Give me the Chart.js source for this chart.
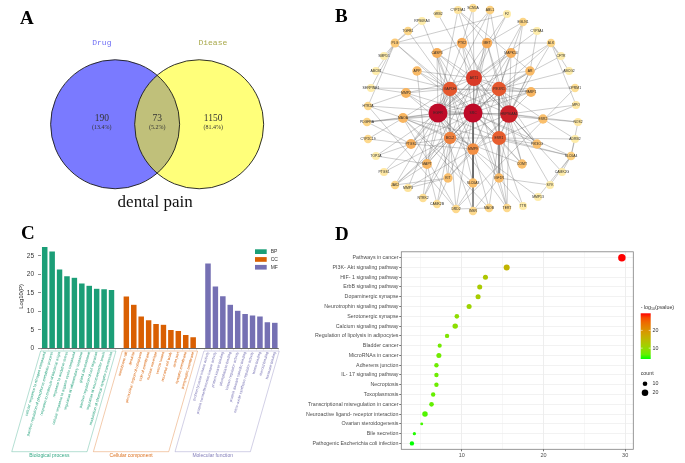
<!DOCTYPE html>
<html>
<head>
<meta charset="utf-8">
<script src="https://cdn.jsdelivr.net/npm/chart.js"></script>
<style>
  html, body { margin: 0; padding: 0; background: #fff; }
  #page { position: relative; width: 685px; height: 463px; overflow: hidden; background: #fff; }
  canvas { position: absolute; }
  .tag { position: absolute; font: bold 19px "Liberation Serif", "Times New Roman", serif; line-height: 19px; color: #000; }
</style>
</head>
<body>
<div id="page">
  <canvas id="venn" width="300" height="225" style="left:0;top:0;width:300px;height:225px"></canvas>
  <canvas id="net" width="385" height="225" style="left:300px;top:0;width:385px;height:225px"></canvas>
  <canvas id="go" width="300" height="238" style="left:0;top:225px;width:300px;height:238px"></canvas>
  <canvas id="kegg" width="385" height="238" style="left:300px;top:225px;width:385px;height:238px"></canvas>
  <div class="tag" style="left:20px;top:8px">A</div>
  <div class="tag" style="left:335px;top:6px">B</div>
  <div class="tag" style="left:21px;top:223px">C</div>
  <div class="tag" style="left:335px;top:224px">D</div>
</div>
<script>
// ---- A: Venn ----
const vennSets = ['Drug', 'Diease'];
const vennCounts = [190, 73, 1150];
const vennShares = ['(13.4%)', '(5.2%)', '(81.4%)'];
const vennTitle = 'dental pain';

// ---- B: PPI network ----
const geneNames = ['SRC', 'EGFR', 'HSP90AA1', 'AKT1', 'GAPDH', 'PIK3R1', 'ESR1', 'BCL2', 'MMP9',
  'PTK2', 'MET', 'CASP3', 'MAPK14', 'APP', 'AR', 'MMP2', 'PARP1', 'MAOA', 'ESR2', 'PTGS2', 'PIK3CG',
  'MAPT', 'COMT', 'KIT', 'SLC6A3', 'IGF1R',
  'PLG', 'TGFB1', 'ABL1', 'EGLN1', 'ALK', 'OPRM1', 'HTR2A', 'PDGFRA', 'CYP2C19', 'JAK2', 'SLC6A4',
  'CYP19A1', 'SCN5A', 'MAOB', 'TERT', 'DRD2', 'INSR', 'CAMK2B', 'NTRK2', 'MMP3',
  'RPS6KA3', 'GRB2', 'F2', 'CYP3A4', 'CFTR', 'ABCG2', 'MPO', 'NOS2', 'ADRB2', 'CAMK2G', 'SYK',
  'MMP13', 'TTR', 'PTGS1', 'TOP2A', 'SMPD1', 'ABCB1', 'SERPINE1'];
const geneX = [0, -35, 36, 1, -23, 26, 26, -23, 0,
  -11, 14, -36, 38, -56, 57, -67, 58, -70, 70, -62, 64,
  -46, 49, -25, 0, 26,
  -78, -65, 17, 50, 78, 102, -105, -106, -105, -78, 98,
  -15, 0, 16, 34, -17, 0, -36, -50, -65,
  -51, -35, 34, 64, 88, 96, 103, 105, 102, 89, 77,
  65, 50, -89, -97, -89, -97, -102];
const geneY = [0, 0, -1, 35, 24, 24, -25, -25, -36,
  70, 70, 60, 60, 42, 42, 20, 21, -5, -6, -31, -31,
  -51, -51, -65, -70, -65,
  70, 82, 103, 91, 70, 25, 7, -9, -26, -72, -43,
  103, 105, -95, -95, -96, -98, -91, -85, -75,
  92, 99, 99, 82, 57, 42, 8, -9, -26, -59, -72,
  -84, -93, -59, -43, 57, 42, 25];
const geneDegree = [40, 40, 37, 33, 29, 29, 28, 23, 21,
  16, 16, 15, 15, 13, 13, 14, 14, 14, 12, 15, 12,
  14, 12, 12, 12, 13,
  10, 8, 9, 8, 8, 6, 7, 8, 7, 8, 9,
  5, 6, 8, 7, 7, 7, 6, 6, 5,
  3, 4, 3, 3, 3, 3, 4, 4, 3, 3, 3,
  3, 3, 4, 3, 3, 3, 3];
const geneLinks = [
  'SRC EGFR HSP90AA1 AKT1 GAPDH PIK3R1 ESR1 BCL2 MMP9 PTK2 MET CASP3 MAPK14 APP AR MMP2 PARP1 MAOA ESR2 PTGS2 PIK3CG MAPT COMT KIT SLC6A3 IGF1R PLG ABL1 EGLN1 ALK JAK2 INSR DRD2 TERT NTRK2 SLC6A4 HTR2A PDGFRA',
  'EGFR HSP90AA1 AKT1 GAPDH PIK3R1 ESR1 BCL2 MMP9 PTK2 MET CASP3 MAPK14 MMP2 PARP1 MAOA PTGS2 MAPT KIT IGF1R ABL1 ALK INSR TERT CYP19A1 PDGFRA JAK2 MMP3 TOP2A',
  'HSP90AA1 AKT1 GAPDH PIK3R1 ESR1 BCL2 MMP9 PTK2 MET CASP3 MAPK14 AR PARP1 ESR2 PIK3CG COMT KIT IGF1R ALK EGLN1 NOS2 MPO SYK CAMK2G ABL1 TERT',
  'AKT1 GAPDH PIK3R1 ESR1 BCL2 MMP9 PTK2 MET CASP3 MAPK14 APP AR MMP2 PARP1 PTGS2 PIK3CG MAPT IGF1R INSR SCN5A F2 CYP3A4 GRB2',
  'GAPDH PIK3R1 ESR1 BCL2 MMP9 CASP3 APP MMP2 PARP1 MAOA PTGS2 MAPT SLC6A3 TGFB1 PLG RPS6KA3 ABCB1 SERPINE1',
  'PIK3R1 ESR1 BCL2 MMP9 MET MAPK14 AR PARP1 ESR2 PIK3CG COMT IGF1R OPRM1 CFTR ABCG2 EGLN1',
  'ESR1 BCL2 MMP9 AR ESR2 COMT CYP19A1 IGF1R PIK3CG TERT MAOB SLC6A4 ADRB2 TTR',
  'BCL2 MMP9 CASP3 PTGS2 MAPT KIT MAOA DRD2 NTRK2 CAMK2B JAK2 PTGS1',
  'MMP9 MMP2 MMP3 MMP13 KIT PTGS2 SLC6A3 INSR MAOB',
  'PTK2 MET CASP3 PLG ABL1 SCN5A',
  'MET ALK EGLN1 F2 CYP19A1',
  'MAOA MAOB COMT DRD2 HTR2A SLC6A4 SLC6A3 CYP2C19 PDGFRA',
  'MAPT APP NTRK2 CAMK2B JAK2 TOP2A',
  'PLG TGFB1 SMPD1 ABCB1 SERPINE1 HTR2A RPS6KA3 F2',
  'DRD2 SLC6A3 HTR2A OPRM1 MAOB',
  'ALK CFTR ABCG2 MPO',
  'SLC6A4 NOS2 ADRB2 SYK CAMK2G MMP13',
  'PTGS2 PTGS1 CYP2C19 TOP2A PDGFRA',
  'IGF1R INSR TERT TTR SYK',
  'ESR2 MPO NOS2 ADRB2',
  'KIT MMP3 JAK2 CAMK2B',
  'AR CYP3A4 CYP19A1',
  'MMP2 SERPINE1 HTR2A'
];

// ---- C: GO enrichment ----
const bpTerms = ['cellular response to nitrogen compound', 'positive regulation of phosphorus metabolic process',
  'response to molecule of bacterial origin', 'response to oxidative stress',
  'cellular response to organic cyclic compound', 'regulation of inflammatory response',
  'gland development', 'positive regulation of cell migration',
  'regulation of neurotransmitter levels', 'modulation of chemical synaptic transmission'];
const bpValues = [27.5, 26.3, 21.4, 19.6, 19.2, 17.6, 17.0, 16.2, 16.1, 15.9];
const ccTerms = ['membrane raft', 'dendrite', 'perinuclear region of cytoplasm', 'side of membrane',
  'nuclear envelope', 'vesicle lumen', 'neuronal cell body', 'axon part', 'synaptic membrane',
  'presynaptic membrane'];
const ccValues = [14.1, 11.9, 8.7, 7.7, 6.7, 6.5, 5.1, 4.8, 3.75, 3.1];
const mfTerms = ['protein tyrosine kinase activity', 'protein serine/threonine kinase activity',
  'protein kinase binding', 'phosphatase binding', 'kinase regulator activity',
  'protein domain specific binding', 'nitric-oxide synthase regulator activity', 'heme binding',
  'steroid binding', 'hormone binding'];
const mfValues = [23.0, 16.8, 14.2, 11.9, 10.3, 9.4, 9.0, 8.7, 7.2, 7.05];
const goGroups = ['Biological process', 'Cellular component', 'Molecular function'];
const goLegend = ['BP', 'CC', 'MF'];
const goColors = ['#1b9e77', '#d95f02', '#7570b3'];
const goYTicks = [0, 5, 10, 15, 20, 25];

// ---- D: KEGG enrichment ----
const keggTerms = ['Pathways in cancer', 'PI3K- Akt signaling pathway', 'HIF- 1 signaling pathway',
  'ErbB signaling pathway', 'Dopaminergic synapse', 'Neurotrophin signaling pathway',
  'Serotonergic synapse', 'Calcium signaling pathway', 'Regulation of lipolysis in adipocytes',
  'Bladder cancer', 'MicroRNAs in cancer', 'Adherens junction', 'IL- 17 signaling pathway',
  'Necroptosis', 'Toxoplasmosis', 'Transcriptional misregulation in cancer',
  'Neuroactive ligand- receptor interaction', 'Ovarian steroidogenesis', 'Bile secretion',
  'Pathogenic Escherichia coli infection'];
const keggLogP = [29.6, 15.5, 12.9, 12.2, 12.0, 10.9, 9.4, 9.2, 8.2, 7.3, 7.2, 6.9, 6.9, 6.9, 6.5, 6.3, 5.5, 5.1, 4.2, 3.9];
const keggCount = [26, 17, 12, 12, 12, 12, 10, 14, 9, 8, 12, 9, 9, 9, 9, 10, 14, 4, 5, 9];
const keggXTicks = [10, 20, 30];
const keggColorTicks = [10, 20];
const keggSizeTicks = [10, 20];

Chart.defaults.font.family = '"Liberation Sans", Arial, sans-serif';
Chart.defaults.animation = false;

const baseOptions = {
  responsive: false,
  animation: false,
  events: [],
  plugins: { legend: { display: false }, tooltip: { enabled: false } }
};

// ---------- A ----------
const vennText = {
  id: 'vennText',
  afterDatasetsDraw(chart) {
    const ctx = chart.ctx, sx = chart.scales.x, sy = chart.scales.y;
    ctx.save();
    ctx.textAlign = 'center';
    ctx.textBaseline = 'middle';
    ctx.font = '8px "Liberation Mono", "DejaVu Sans Mono", monospace';
    ctx.fillStyle = '#6f6ff5';
    ctx.fillText(vennSets[0], sx.getPixelForValue(-0.158), sy.getPixelForValue(0.972));
    ctx.fillStyle = '#a9a94c';
    ctx.fillText(vennSets[1], sx.getPixelForValue(1.163), sy.getPixelForValue(0.972));
    const cx = [-0.158, 0.5, 1.167];
    vennCounts.forEach((n, i) => {
      ctx.fillStyle = '#333';
      ctx.font = '9.5px "Liberation Serif", serif';
      ctx.fillText(String(n), sx.getPixelForValue(cx[i]), sy.getPixelForValue(0.063));
      ctx.font = '6px "Liberation Serif", serif';
      ctx.fillText(vennShares[i], sx.getPixelForValue(cx[i]), sy.getPixelForValue(-0.033));
    });
    ctx.fillStyle = '#111';
    ctx.font = '17px "Liberation Serif", serif';
    ctx.fillText(vennTitle, sx.getPixelForValue(0.476), sy.getPixelForValue(-0.937));
    ctx.restore();
  }
};

const vennCircles = vennSets.map((s, i) => ({ x: i, y: 0, r: 64.5 }));
new Chart(document.getElementById('venn'), {
  type: 'bubble',
  data: {
    datasets: [
      { data: vennCircles, clip: false, backgroundColor: 'rgba(0,0,0,0)', borderColor: '#1a1a1a', borderWidth: 0.9 },
      { data: vennCircles, clip: false, backgroundColor: ['rgba(0,0,255,0.52)', 'rgba(255,255,0,0.52)'], borderWidth: 0 }
    ]
  },
  options: {
    ...baseOptions,
    layout: { padding: 0, autoPadding: false },
    scales: {
      x: { display: false, min: -1.37, max: 2.2 },
      y: { display: false, min: -1.2, max: 1.48 }
    }
  },
  plugins: [vennText]
});

// ---------- B ----------
const netStops = [[0, [254, 236, 170]], [0.15, [252, 210, 130]], [0.3, [248, 180, 95]],
  [0.5, [242, 140, 65]], [0.75, [226, 75, 40]], [1, [190, 10, 40]]];
const maxDeg = Math.max(...geneDegree), minDeg = Math.min(...geneDegree);
function degreeT(d) { return (d - minDeg) / (maxDeg - minDeg); }
function degreeColor(d) {
  const t = degreeT(d);
  for (let k = 1; k < netStops.length; k++) {
    if (t <= netStops[k][0]) {
      const [t0, c0] = netStops[k - 1], [t1, c1] = netStops[k];
      const f = (t - t0) / (t1 - t0);
      const c = c0.map((v, j) => Math.round(v + (c1[j] - v) * f));
      return `rgb(${c[0]},${c[1]},${c[2]})`;
    }
  }
  return 'rgb(190,10,40)';
}
function degreeRadius(d) { return 4 + 5.5 * Math.pow(degreeT(d), 1.5); }

const nodePoints = geneNames.map((g, i) => ({ x: geneX[i], y: geneY[i] }));
const edgePoints = [];
geneLinks.forEach(line => {
  const [hub, ...rest] = line.split(' ');
  const h = geneNames.indexOf(hub);
  rest.forEach(name => {
    const j = geneNames.indexOf(name);
    if (h < 0 || j < 0 || h === j) return;
    edgePoints.push({ x: geneX[h], y: geneY[h] }, { x: geneX[j], y: geneY[j] }, { x: null, y: null });
  });
});

const nodeLabels = {
  id: 'nodeLabels',
  afterDatasetsDraw(chart) {
    const ctx = chart.ctx;
    const meta = chart.getDatasetMeta(0);
    ctx.save();
    ctx.textAlign = 'center';
    ctx.textBaseline = 'middle';
    ctx.fillStyle = '#2a2a2a';
    ctx.font = '3.4px "Liberation Sans", Arial, sans-serif';
    meta.data.forEach((pt, i) => ctx.fillText(geneNames[i], pt.x, pt.y));
    ctx.restore();
  }
};

new Chart(document.getElementById('net'), {
  type: 'scatter',
  data: {
    datasets: [
      {
        data: nodePoints,
        clip: false,
        pointRadius: geneDegree.map(degreeRadius),
        pointBackgroundColor: geneDegree.map(degreeColor),
        pointBorderWidth: 0
      },
      {
        data: edgePoints,
        clip: false,
        showLine: true,
        spanGaps: false,
        pointRadius: 0,
        borderColor: 'rgba(95,95,95,0.62)',
        borderWidth: 0.5
      }
    ]
  },
  options: {
    ...baseOptions,
    layout: { padding: 0, autoPadding: false },
    scales: {
      x: { display: false, min: -173, max: 212 },
      y: { display: false, min: -112, max: 113 }
    }
  },
  plugins: [nodeLabels]
});

// ---------- C ----------
const goLabels = [...bpTerms, '', ...ccTerms, ' ', ...mfTerms];
const gap = n => Array(n).fill(null);
const goStart = [0, bpTerms.length + 1, bpTerms.length + ccTerms.length + 2];
function goGroupOf(i) { return i >= goStart[2] ? 2 : i >= goStart[1] ? 1 : 0; }

const goDecor = {
  id: 'goDecor',
  afterDraw(chart) {
    const ctx = chart.ctx, sx = chart.scales.x;
    const slot = sx.getPixelForValue(1) - sx.getPixelForValue(0);
    const top = chart.chartArea.bottom + 2.7, bottom = 226.7;
    const dx = (bottom - top) / Math.tan(74 * Math.PI / 180);
    ctx.save();
    goGroups.forEach((name, g) => {
      const s = goStart[g], len = [bpTerms, ccTerms, mfTerms][g].length;
      const xa = sx.getPixelForValue(s) - slot * 0.55;
      const xb = sx.getPixelForValue(s + len - 1) + slot * 0.6;
      ctx.beginPath();
      ctx.moveTo(xa, top); ctx.lineTo(xb, top);
      ctx.lineTo(xb - dx, bottom); ctx.lineTo(xa - dx, bottom);
      ctx.closePath();
      ctx.strokeStyle = goColors[g];
      ctx.globalAlpha = 0.55;
      ctx.lineWidth = 0.6;
      ctx.stroke();
      ctx.globalAlpha = 0.9;
      ctx.fillStyle = goColors[g];
      ctx.font = '5px "Liberation Sans", Arial, sans-serif';
      ctx.textAlign = 'center';
      ctx.textBaseline = 'middle';
      ctx.fillText(name, (xa + xb) / 2 - dx, bottom + 3.8);
    });
    ctx.globalAlpha = 1;
    goLegend.forEach((name, i) => {
      const y = 24.3 + i * 7.8;
      ctx.fillStyle = goColors[i];
      ctx.fillRect(255, y, 11.7, 4.7);
      ctx.fillStyle = '#333';
      ctx.font = '5px "Liberation Sans", Arial, sans-serif';
      ctx.textAlign = 'left';
      ctx.textBaseline = 'middle';
      ctx.fillText(name, 270.7, y + 2.4);
    });
    ctx.restore();
  }
};

const goBar = { grouped: false, barPercentage: 0.88, categoryPercentage: 1, borderColor: 'rgba(255,255,255,0.8)', borderWidth: 0.5 };
new Chart(document.getElementById('go'), {
  type: 'bar',
  data: {
    labels: goLabels,
    datasets: [
      { ...goBar, label: goLegend[0], data: [...bpValues, ...gap(ccTerms.length + mfTerms.length + 2)], backgroundColor: goColors[0] },
      { ...goBar, label: goLegend[1], data: [...gap(bpTerms.length + 1), ...ccValues, ...gap(mfTerms.length + 1)], backgroundColor: goColors[1] },
      { ...goBar, label: goLegend[2], data: [...gap(bpTerms.length + ccTerms.length + 2), ...mfValues], backgroundColor: goColors[2] }
    ]
  },
  options: {
    ...baseOptions,
    layout: { padding: { top: 19.6, right: 21.5, left: 0, bottom: 0 }, autoPadding: false },
    scales: {
      x: {
        offset: true,
        grid: { drawOnChartArea: false, tickLength: 2, color: '#cfcfcf', lineWidth: 0.5 },
        border: { color: '#444', width: 0.8 },
        ticks: {
          autoSkip: false, minRotation: 74, maxRotation: 74, padding: 1,
          font: { size: 3.8 },
          color: c => goColors[goGroupOf(c.index)]
        },
        afterFit: s => { s.height = 114.7; }
      },
      y: {
        min: 0, max: 28,
        afterBuildTicks: s => { s.ticks = goYTicks.map(v => ({ value: v })); },
        grid: { drawOnChartArea: false, tickLength: 3, color: '#444', lineWidth: 0.6 },
        border: { display: false },
        ticks: { padding: 4, color: '#333', font: { size: 6.5 } },
        title: { display: true, text: 'Log10(P)', color: '#222', font: { size: 6 }, padding: { top: 18, bottom: 0 } },
        afterFit: s => { s.width = 41; }
      }
    }
  },
  plugins: [goDecor]
});

// ---------- D ----------
function srgbToLab(c) {
  const lin = c.map(v => { v /= 255; return v > 0.04045 ? Math.pow((v + 0.055) / 1.055, 2.4) : v / 12.92; });
  const X = (0.4124 * lin[0] + 0.3576 * lin[1] + 0.1805 * lin[2]) / 0.95047;
  const Y = 0.2126 * lin[0] + 0.7152 * lin[1] + 0.0722 * lin[2];
  const Z = (0.0193 * lin[0] + 0.1192 * lin[1] + 0.9505 * lin[2]) / 1.08883;
  const f = t => t > 0.008856 ? Math.cbrt(t) : 7.787 * t + 16 / 116;
  return [116 * f(Y) - 16, 500 * (f(X) - f(Y)), 200 * (f(Y) - f(Z))];
}
function labToSrgb([L, a, b]) {
  const fy = (L + 16) / 116, fx = fy + a / 500, fz = fy - b / 200;
  const inv = t => t > 0.206893 ? t * t * t : (t - 16 / 116) / 7.787;
  const X = 0.95047 * inv(fx), Y = inv(fy), Z = 1.08883 * inv(fz);
  const lin = [3.2406 * X - 1.5372 * Y - 0.4986 * Z, -0.9689 * X + 1.8758 * Y + 0.0415 * Z, 0.0557 * X - 0.2040 * Y + 1.0570 * Z];
  return lin.map(v => {
    v = Math.min(1, Math.max(0, v));
    v = v > 0.0031308 ? 1.055 * Math.pow(v, 1 / 2.4) - 0.055 : 12.92 * v;
    return Math.round(v * 255);
  });
}
const lowLab = srgbToLab([0, 255, 0]), highLab = srgbToLab([255, 0, 0]);
const pMin = Math.min(...keggLogP), pMax = Math.max(...keggLogP);
function pvalColor(v) {
  const t = Math.min(1, Math.max(0, (v - pMin) / (pMax - pMin)));
  const c = labToSrgb(lowLab.map((l, i) => l + (highLab[i] - l) * t));
  return `rgb(${c[0]},${c[1]},${c[2]})`;
}
function countRadius(n) { return 0.73 * Math.sqrt(n); }

const keggLegend = {
  id: 'keggLegend',
  afterDraw(chart) {
    const ctx = chart.ctx, a = chart.chartArea;
    ctx.save();
    // panel border
    ctx.strokeStyle = '#7f7f7f';
    ctx.lineWidth = 0.8;
    ctx.strokeRect(a.left, a.top, a.right - a.left, a.bottom - a.top);
    // colour bar title
    const tx = 340.7, ty = 82.7;
    ctx.fillStyle = '#333';
    ctx.textBaseline = 'middle';
    ctx.textAlign = 'left';
    ctx.font = '5.3px "Liberation Sans", Arial, sans-serif';
    let w = 0;
    ctx.fillText('- log', tx, ty); w += ctx.measureText('- log').width;
    ctx.font = '3.6px "Liberation Sans", Arial, sans-serif';
    ctx.fillText('10', tx + w, ty + 1.6); w += ctx.measureText('10').width;
    ctx.font = '5.3px "Liberation Sans", Arial, sans-serif';
    ctx.fillText('(pvalue)', tx + w, ty);
    // colour bar
    const bx = 340.7, bw = 10, bTop = 88.3, bBot = 134;
    const grad = ctx.createLinearGradient(0, bBot, 0, bTop);
    for (let k = 0; k <= 10; k++) grad.addColorStop(k / 10, pvalColor(pMin + (pMax - pMin) * k / 10));
    ctx.fillStyle = grad;
    ctx.fillRect(bx, bTop, bw, bBot - bTop);
    keggColorTicks.forEach(v => {
      const y = bBot - (v - pMin) / (pMax - pMin) * (bBot - bTop);
      ctx.strokeStyle = 'rgba(255,255,255,0.9)';
      ctx.lineWidth = 0.6;
      ctx.beginPath();
      ctx.moveTo(bx, y); ctx.lineTo(bx + 2, y);
      ctx.moveTo(bx + bw - 2, y); ctx.lineTo(bx + bw, y);
      ctx.stroke();
      ctx.fillStyle = '#333';
      ctx.fillText(String(v), 352.5, y);
    });
    // size legend
    ctx.fillStyle = '#333';
    ctx.fillText('count', 340.7, 148.7);
    keggSizeTicks.forEach((v, i) => {
      const y = 158.7 + i * 9;
      ctx.fillStyle = '#000';
      ctx.beginPath();
      ctx.arc(345, y, countRadius(v), 0, Math.PI * 2);
      ctx.fill();
      ctx.fillStyle = '#333';
      ctx.fillText(String(v), 352.5, y);
    });
    ctx.restore();
  }
};

new Chart(document.getElementById('kegg'), {
  type: 'bubble',
  data: {
    datasets: [{
      data: keggTerms.map((t, i) => ({ x: keggLogP[i], y: i, r: countRadius(keggCount[i]) })),
      backgroundColor: keggLogP.map(pvalColor),
      borderWidth: 0
    }]
  },
  options: {
    ...baseOptions,
    layout: { padding: { top: 26.8, right: 51.7, left: 0, bottom: 0 }, autoPadding: false },
    scales: {
      x: {
        min: 2.6, max: 31.0,
        afterBuildTicks: s => { s.ticks = [5, 10, 15, 20, 25, 30].map(v => ({ value: v })); },
        grid: {
          color: c => (c.tick && c.tick.value % 10 === 0) ? '#e6e6e6' : '#f3f3f3',
          lineWidth: 0.7,
          tickLength: 2,
          tickColor: c => (c.tick && keggXTicks.includes(c.tick.value)) ? '#333' : 'rgba(0,0,0,0)'
        },
        border: { display: false },
        ticks: {
          padding: 1, color: '#4d4d4d', font: { size: 5.5 },
          callback: v => keggXTicks.includes(v) ? String(v) : ''
        },
        afterFit: s => { s.height = 13.7; }
      },
      y: {
        min: -0.6, max: 19.6, reverse: true,
        afterBuildTicks: s => { s.ticks = keggTerms.map((t, i) => ({ value: i })); },
        grid: { color: '#ececec', lineWidth: 0.7, tickLength: 2, tickColor: '#333' },
        border: { display: false },
        ticks: {
          autoSkip: false, padding: 0.8, color: '#4d4d4d', font: { size: 5.3 },
          callback: v => keggTerms[v]
        },
        afterFit: s => { s.width = 101.3; }
      }
    }
  },
  plugins: [keggLegend]
});
</script>
</body>
</html>
